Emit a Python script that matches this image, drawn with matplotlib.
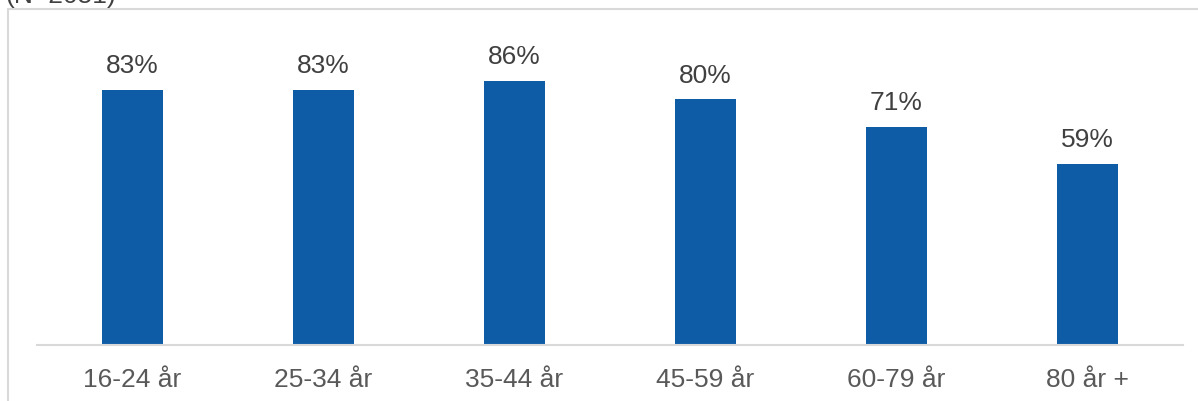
import matplotlib
matplotlib.use("Agg")
import matplotlib.pyplot as plt
from matplotlib.patches import Rectangle

categories = ["16-24 år", "25-34 år", "35-44 år", "45-59 år", "60-79 år", "80 år +"]
values = [83, 83, 86, 80, 71, 59]
note = "(N=2051)"

plt.rcParams["font.family"] = ["Liberation Sans", "DejaVu Sans"]

W, H = 1198, 401
fig = plt.figure(figsize=(W / 100, H / 100), dpi=100)

# light frame around the chart area
fig.patches.append(Rectangle((8 / W, -0.1), 1.2, (H - 9) / H + 0.1,
                             transform=fig.transFigure, fill=False,
                             edgecolor="#d9d9d9", linewidth=1.5))

fig.text(5 / W, 1 + 4 / H, note, fontsize=19, color="#404040",
         ha="left", va="center")

ax = fig.add_axes([37 / W, 56 / H, (1183 - 37) / W, 307 / H])
x = range(len(categories))
bars = ax.bar(x, values, width=0.315, color="#0E5CA6")
ax.set_xlim(-0.5, len(categories) - 0.5)
ax.set_ylim(0, 100)

for xi, v in zip(x, values):
    ax.annotate(f"{v}%", (xi, v), xytext=(0, 8.5), textcoords="offset points",
                ha="center", va="bottom", fontsize=19, color="#404040")

ax.set_xticks(list(x))
ax.set_xticklabels(categories, fontsize=19, color="#595959")
ax.tick_params(axis="x", length=0, pad=16.5)
ax.set_yticks([])
for s in ["top", "right", "left"]:
    ax.spines[s].set_visible(False)
ax.spines["bottom"].set_color("#d9d9d9")
ax.spines["bottom"].set_linewidth(1.5)
ax.patch.set_alpha(0)

fig.savefig("out.png", dpi=100)
